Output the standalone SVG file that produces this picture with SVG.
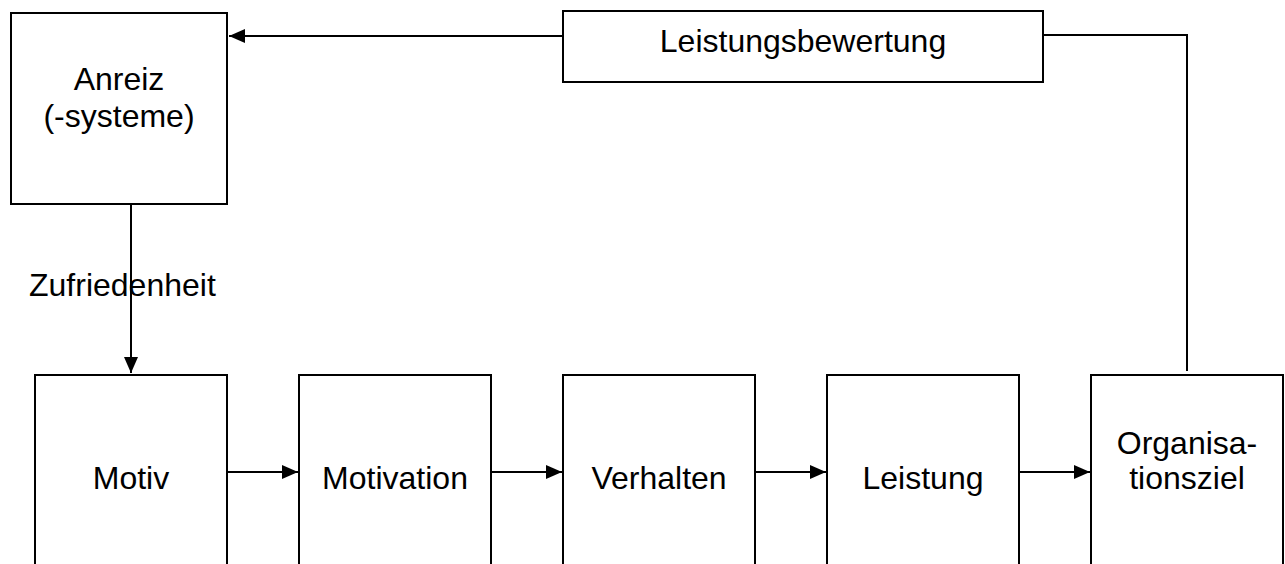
<svg xmlns="http://www.w3.org/2000/svg" width="1285" height="564" viewBox="0 0 1285 564">
  <style>
    .box { fill: #ffffff; stroke: #000000; stroke-width: 2; }
    .lbl { font-family: "Liberation Sans", Arial, sans-serif; font-size: 32px; fill: #000000; text-anchor: middle; }
    .edge { fill: none; stroke: #000000; stroke-width: 2; }
  </style>
  <defs>
    <marker id="arrow" markerWidth="16" markerHeight="14" refX="16" refY="7" orient="auto" markerUnits="userSpaceOnUse">
      <path d="M0,0 L16,7 L0,14 Z" fill="#000000"/>
    </marker>
  </defs>
  <rect width="1285" height="564" fill="#ffffff"/>

  <g id="connectors">
    <path class="edge" d="M562,36 H229" marker-end="url(#arrow)"/>
    <path class="edge" d="M1043,35 H1187 V371"/>
    <path class="edge" d="M131,204 V373" marker-end="url(#arrow)"/>
    <path class="edge" d="M227,472 H298" marker-end="url(#arrow)"/>
    <path class="edge" d="M491,472 H562" marker-end="url(#arrow)"/>
    <path class="edge" d="M755,472 H826" marker-end="url(#arrow)"/>
    <path class="edge" d="M1019,472 H1090" marker-end="url(#arrow)"/>
    <text class="lbl" x="29" y="296" style="text-anchor:start">Zufriedenheit</text>
  </g>

  <g id="anreiz">
    <rect class="box" x="11" y="13" width="216" height="191"/>
    <text class="lbl" x="119" y="90">Anreiz</text>
    <text class="lbl" x="119" y="127">(-systeme)</text>
  </g>

  <g id="leistungsbewertung">
    <rect class="box" x="563" y="11" width="480" height="71"/>
    <text class="lbl" x="803" y="52">Leistungsbewertung</text>
  </g>

  <g id="motiv">
    <rect class="box" x="35" y="375" width="192" height="200"/>
    <text class="lbl" x="131" y="489">Motiv</text>
  </g>

  <g id="motivation">
    <rect class="box" x="299" y="375" width="192" height="200"/>
    <text class="lbl" x="395" y="489">Motivation</text>
  </g>

  <g id="verhalten">
    <rect class="box" x="563" y="375" width="192" height="200"/>
    <text class="lbl" x="659" y="489">Verhalten</text>
  </g>

  <g id="leistung">
    <rect class="box" x="827" y="375" width="192" height="200"/>
    <text class="lbl" x="923" y="489">Leistung</text>
  </g>

  <g id="organisationsziel">
    <rect class="box" x="1091" y="375" width="192" height="200"/>
    <text class="lbl" x="1187" y="454">Organisa-</text>
    <text class="lbl" x="1187" y="489">tionsziel</text>
  </g>
</svg>
